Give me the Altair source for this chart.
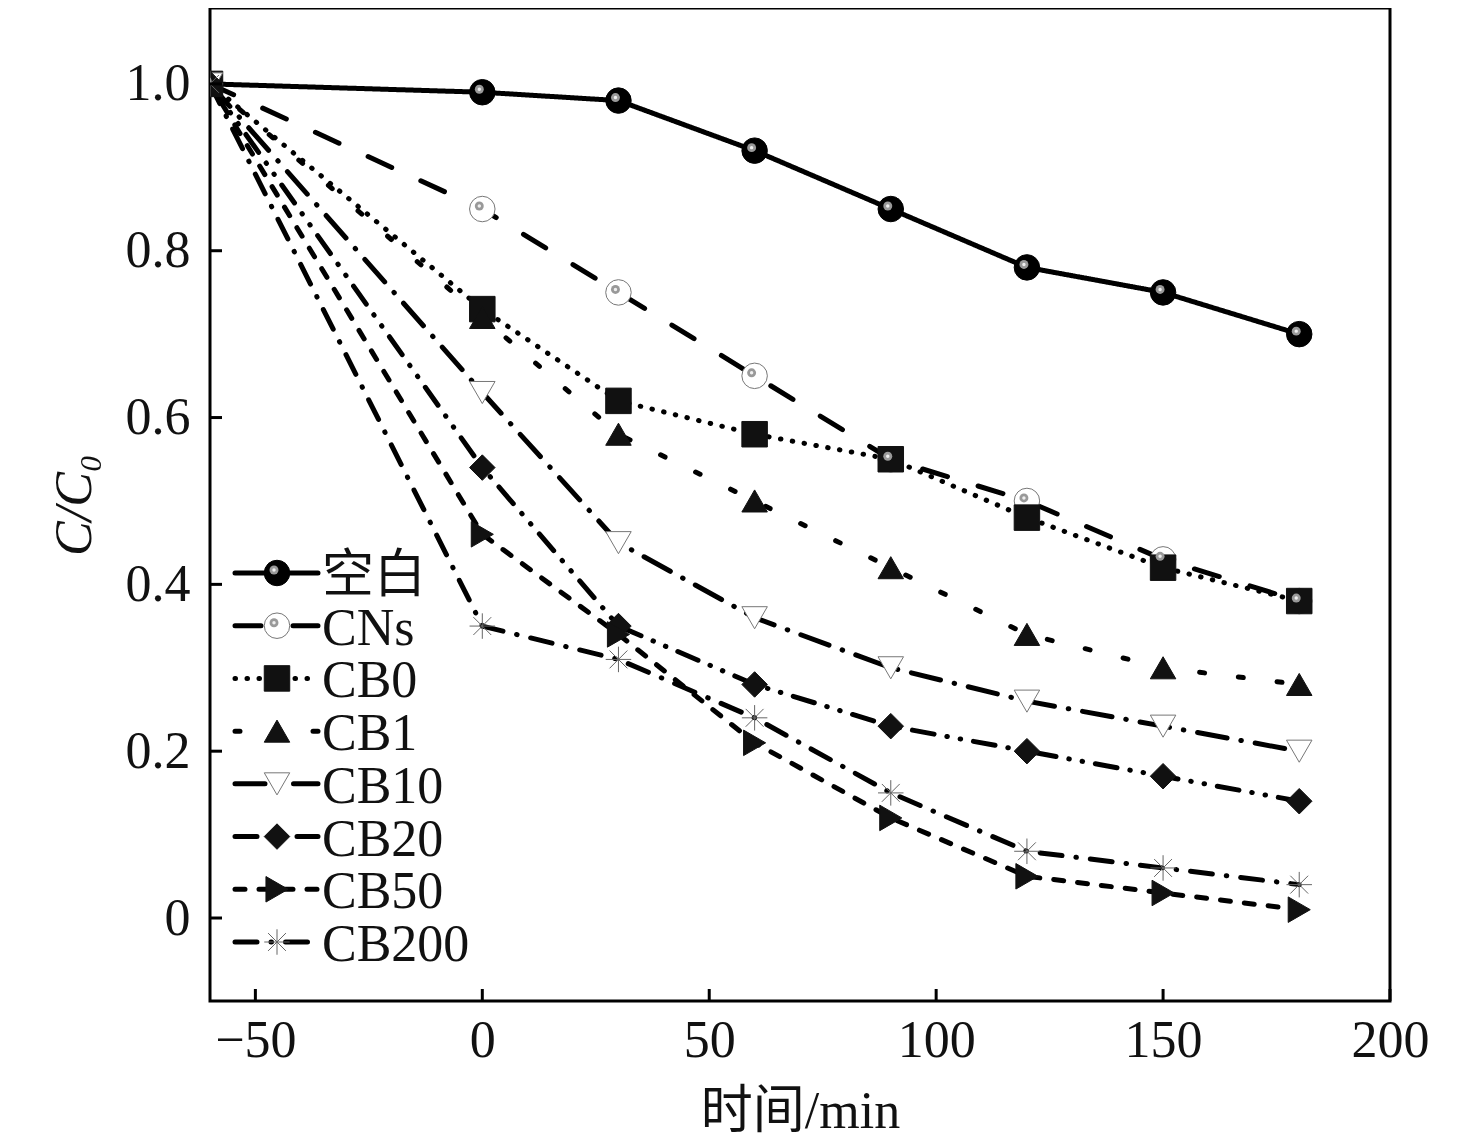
import altair as alt
import pandas as pd

series = ["空白", "CNs", "CB0", "CB1", "CB10", "CB20", "CB50", "CB200"]
times = [-60, 0, 30, 60, 90, 120, 150, 180]
v_blank = [1.0, 0.99, 0.98, 0.92, 0.85, 0.78, 0.75, 0.70]
v_cns = [1.0, 0.85, 0.75, 0.65, 0.55, 0.50, 0.43, 0.38]
v_cb0 = [1.0, 0.73, 0.62, 0.58, 0.55, 0.48, 0.42, 0.38]
v_cb1 = [1.0, 0.72, 0.58, 0.50, 0.42, 0.34, 0.30, 0.28]
v_cb10 = [1.0, 0.63, 0.45, 0.36, 0.30, 0.26, 0.23, 0.20]
v_cb20 = [1.0, 0.54, 0.35, 0.28, 0.23, 0.20, 0.17, 0.14]
v_cb50 = [1.0, 0.46, 0.34, 0.21, 0.12, 0.05, 0.03, 0.01]
v_cb200 = [1.0, 0.35, 0.31, 0.24, 0.15, 0.08, 0.06, 0.04]
all_vals = [v_blank, v_cns, v_cb0, v_cb1, v_cb10, v_cb20, v_cb50, v_cb200]

x_ticks = [-50, 0, 50, 100, 150, 200]
y_ticks = [0, 0.2, 0.4, 0.6, 0.8, 1.0]

rows = []
for s, vals in zip(series, all_vals):
    for t, v in zip(times, vals):
        rows.append({"series": s, "t": t, "v": v})
df = pd.DataFrame(rows)
legend_df = pd.DataFrame({"series": series, "idx": list(range(len(series)))})
xt_df = pd.DataFrame({"t": x_ticks})
yt_df = pd.DataFrame({"v": y_ticks})

W, H = 1180, 993
SERIF = "Liberation Serif, Noto Sans CJK SC"
ASTER = "M-1,0L1,0M0,-1L0,1M-0.7,-0.7L0.7,0.7M-0.7,0.7L0.7,-0.7"

dash_scale = alt.Scale(domain=series, range=[
    [1, 0], [26, 32], [0.5, 11.5], [5, 34], [30, 14, 0.5, 14],
    [22, 13, 0.5, 13, 0.5, 13], [10, 14], [22, 14, 0.5, 14]])
shape_scale = alt.Scale(domain=series, range=[
    "circle", "circle", "square", "triangle-up", "triangle-down",
    "diamond", "triangle-right", ASTER])
fill_scale = alt.Scale(domain=series, range=[
    "black", "white", "#111", "#111", "white", "#111", "#111", "transparent"])
stroke_scale = alt.Scale(domain=series, range=[
    "black", "#777", "#111", "#111", "#777", "#111", "#111", "#666"])
size_scale = alt.Scale(domain=series, range=[650, 650, 460, 620, 680, 700, 650, 650])

xs = alt.Scale(domain=[-60, 200], nice=False, zero=False)
ys = alt.Scale(domain=[-0.0995, 1.091], nice=False, zero=False)

X = alt.X("t:Q", scale=xs, axis=alt.Axis(
    values=x_ticks, title="时间/min", labelPadding=14, titlePadding=20,
    labelFlush=False))
Y = alt.Y("v:Q", scale=ys, axis=alt.Axis(
    values=y_ticks, title="C/C₀", titleFontStyle="italic", labelPadding=20,
    titlePadding=24,
    labelExpr="datum.value == 0 ? '0' : format(datum.value, '.1f')"))

base = alt.Chart(df)
lines = base.mark_line(color="black", strokeWidth=5, strokeCap="round", clip=True).encode(
    x=X, y=Y,
    detail="series:N",
    strokeDash=alt.StrokeDash("series:N", scale=dash_scale, legend=None),
)
points = base.mark_point(filled=True, opacity=1, strokeWidth=1, clip=True).encode(
    x=X, y=Y,
    shape=alt.Shape("series:N", scale=shape_scale, legend=None),
    fill=alt.Fill("series:N", scale=fill_scale, legend=None),
    stroke=alt.Stroke("series:N", scale=stroke_scale, legend=None),
    size=alt.Size("series:N", scale=size_scale, legend=None),
)
hl = base.transform_filter(
    alt.FieldOneOfPredicate(field="series", oneOf=["空白", "CNs"])
)
hl1 = hl.mark_point(shape="circle", filled=True, fill="#999", opacity=1, size=80,
                    xOffset=-3, yOffset=-3, clip=True).encode(x=X, y=Y)
hl2 = hl.mark_point(shape="circle", filled=True, fill="#eee", opacity=1, size=12,
                    xOffset=-3, yOffset=-3, clip=True).encode(x=X, y=Y)

xticks = alt.Chart(xt_df).mark_rule(color="black", strokeWidth=3).encode(
    x=alt.X("t:Q", scale=xs), y=alt.value(H), y2=alt.value(H - 12))
yticks = alt.Chart(yt_df).mark_rule(color="black", strokeWidth=3).encode(
    y=alt.Y("v:Q", scale=ys), x=alt.value(0), x2=alt.value(12))

main = alt.layer(lines, points, hl1, hl2, xticks, yticks)

LY = alt.Y("idx:Q", scale=alt.Scale(domain=[0, 7], range=[565, 934], nice=False, zero=False), axis=None)
lbase = alt.Chart(legend_df)
l_rule = lbase.mark_rule(color="black", strokeWidth=5, strokeCap="round").encode(
    x=alt.value(25), x2=alt.value(108), y=LY,
    strokeDash=alt.StrokeDash("series:N", scale=dash_scale, legend=None))
l_pts = lbase.mark_point(filled=True, opacity=1, strokeWidth=1).encode(
    x=alt.value(67), y=LY,
    shape=alt.Shape("series:N", scale=shape_scale, legend=None),
    fill=alt.Fill("series:N", scale=fill_scale, legend=None),
    stroke=alt.Stroke("series:N", scale=stroke_scale, legend=None),
    size=alt.Size("series:N", scale=size_scale, legend=None))
lhl = lbase.transform_filter(alt.FieldOneOfPredicate(field="series", oneOf=["空白", "CNs"]))
l_hl1 = lhl.mark_point(shape="circle", filled=True, fill="#999", opacity=1, size=80,
                       xOffset=-3, yOffset=-3).encode(x=alt.value(67), y=LY)
l_hl2 = lhl.mark_point(shape="circle", filled=True, fill="#eee", opacity=1, size=12,
                       xOffset=-3, yOffset=-3).encode(x=alt.value(67), y=LY)
l_txt = lbase.mark_text(align="left", baseline="middle", font=SERIF, fontSize=52,
                        color="#111", dy=3).encode(x=alt.value(112), y=LY, text="series:N")
legend = alt.layer(l_rule, l_pts, l_hl1, l_hl2, l_txt)

chart = alt.layer(main, legend).resolve_scale(y="independent").properties(
    width=W, height=H,
    background="white",
    autosize=alt.AutoSizeParams(type="none"),
    padding={"left": 202, "top": 0, "right": 50, "bottom": 140},
).configure_view(stroke="black", strokeWidth=3).configure_axis(
    grid=False, domain=False, ticks=False,
    labelFont=SERIF, labelFontSize=52, labelColor="#111",
    titleFont=SERIF, titleFontSize=52, titleColor="#111", titleFontWeight="normal",
)

chart.save("out.html", embed_options={"renderer": "svg", "actions": False})
